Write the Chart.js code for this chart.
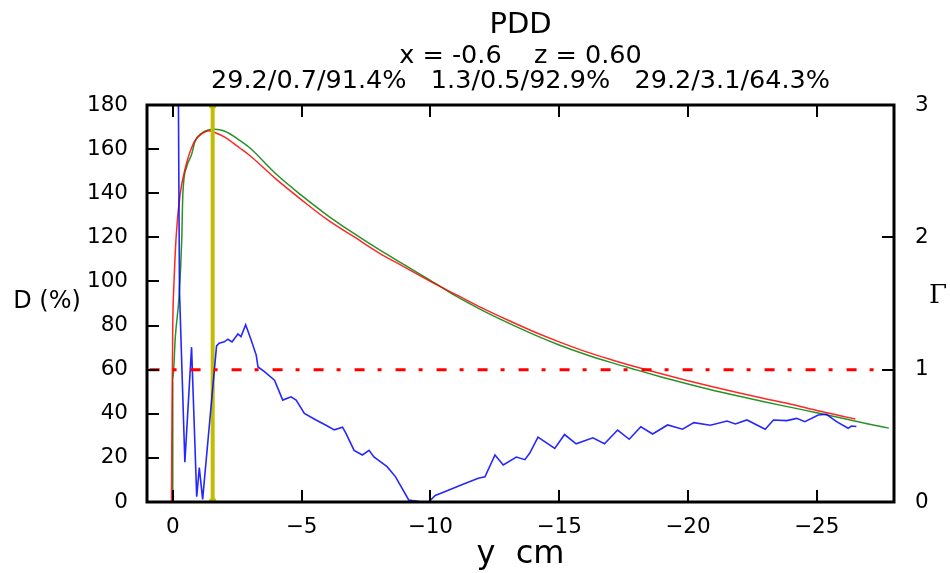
<!DOCTYPE html>
<html>
<head>
<meta charset="utf-8">
<script src="https://cdn.jsdelivr.net/npm/chart.js@4.4.1/dist/chart.umd.min.js"></script>
<style>
  body { margin: 0; background: #fff; }
</style>
</head>
<body>
<canvas id="pdd" width="950" height="573"></canvas>
<script>
// depth (cm) and dose (%)
const depthRed = [0.05, 0.03, 0.0, -0.05, -0.13, -0.28, -0.5, -0.78, -0.98, -1.2, -1.4, -1.7, -2, -2.6, -3, -4, -5, -6, -7, -8, -9, -10, -11, -12, -13, -14, -15, -16, -17, -18, -19, -20, -21, -22, -23, -24, -25, -26, -26.5]
const doseRed = [0, 40, 80, 100, 120, 139, 152, 162, 165.5, 167.5, 168.3, 167.2, 165.5, 160.5, 157, 146.5, 137, 128, 120.5, 113, 106.5, 100, 94, 88, 82.5, 77.3, 72.6, 68.3, 64.6, 61.2, 58, 55, 52.1, 49.4, 46.8, 44.3, 41.5, 38.9, 37.6]

const depthGreen = [0, 0, -0.1, -0.25, -0.35, -0.39, -0.54, -0.73, -0.86, -1.12, -1.63, -2, -2.6, -3, -4, -5, -6, -7, -8, -9, -10, -11, -12, -13, -14, -15, -16, -17, -18, -19, -20, -21, -22, -23, -24, -25, -26, -27, -27.8]
const doseGreen = [0, 55, 75, 94, 119.5, 139, 152, 157.5, 163.4, 167.2, 169, 168.2, 164, 160.5, 148.8, 139, 130, 122, 114.5, 107.5, 100.5, 93.3, 87, 81.3, 76, 71.2, 67, 63.3, 59.9, 56.6, 53.5, 50.6, 47.9, 45.3, 42.9, 40.5, 38, 35.4, 33.5]

// gamma index along depth
const gammaDepth = [0, -0.08, -0.22, -0.26, -0.47, -0.73, -0.93, -1.03, -1.16, -1.7, -1.8, -2.0, -2.14, -2.3, -2.53, -2.65, -2.83, -3.05, -3.24, -3.31, -3.56, -3.95, -4.27, -4.59, -4.79, -5.11, -5.56, -5.95, -6.27, -6.59, -6.72, -7.04, -7.36, -7.62, -7.81, -8.32, -8.65, -9.16, -9.68, -9.93, -10.19, -10.58, -11.22, -11.86, -12.12, -12.51, -12.83, -13.34, -13.67, -13.86, -14.18, -14.83, -15.21, -15.66, -16.31, -16.76, -17.27, -17.72, -18.17, -18.63, -19.21, -19.79, -20.23, -20.87, -21.52, -21.84, -22.29, -23.0, -23.32, -23.84, -24.22, -24.54, -25.06, -25.38, -25.77, -26.22, -26.35, -26.54]
const gammaValue = [2.92, 3.6, 3.02, 1.6, 0.3, 1.17, 0.04, 0.26, 0.02, 1.18, 1.2, 1.21, 1.23, 1.21, 1.27, 1.25, 1.34, 1.22, 1.11, 1.02, 0.985, 0.92, 0.77, 0.795, 0.77, 0.67, 0.62, 0.58, 0.545, 0.565, 0.52, 0.39, 0.355, 0.39, 0.34, 0.267, 0.19, 0.015, 0.0, 0.0, 0.05, 0.08, 0.13, 0.18, 0.19, 0.355, 0.28, 0.34, 0.32, 0.37, 0.49, 0.405, 0.51, 0.44, 0.485, 0.44, 0.544, 0.474, 0.569, 0.514, 0.582, 0.55, 0.6, 0.58, 0.612, 0.59, 0.62, 0.55, 0.62, 0.615, 0.632, 0.607, 0.657, 0.663, 0.607, 0.557, 0.574, 0.57]

const markerDepth = [-1.55, -1.55]
const markerDose = [0, 180]

const passDepth = [0.9, -27.5]
const passGamma = [1, 1]

const xTicks = [0, -5, -10, -15, -20, -25]

const titleText = 'PDD'
const subLines = ['x = -0.6    z = 0.60', '29.2/0.7/91.4%   1.3/0.5/92.9%   29.2/3.1/64.3%']

const pts = (xs, ys) => xs.map((x, i) => ({ x: x, y: ys[i] }))
const FONT = 'DejaVu Sans'

// matplotlib-like frame, inward ticks and the loose labels
const framePlugin = {
  id: 'frame',
  afterDraw(chart) {
    const { ctx, chartArea: a, scales } = chart
    ctx.save()
    ctx.strokeStyle = '#000'
    ctx.lineWidth = 3
    ctx.strokeRect(a.left, a.top, a.right - a.left, a.bottom - a.top)

    ctx.lineWidth = 2
    ctx.beginPath()
    scales.x.ticks.forEach(t => {
      const px = Math.round(scales.x.getPixelForValue(t.value))
      ctx.moveTo(px, a.bottom); ctx.lineTo(px, a.bottom - 12)
      ctx.moveTo(px, a.top); ctx.lineTo(px, a.top + 12)
    })
    scales.y.ticks.forEach(t => {
      const py = Math.round(scales.y.getPixelForValue(t.value))
      ctx.moveTo(a.left, py); ctx.lineTo(a.left + 12, py)
    })
    scales.y2.ticks.forEach(t => {
      const py = Math.round(scales.y2.getPixelForValue(t.value))
      ctx.moveTo(a.right, py); ctx.lineTo(a.right - 12, py)
    })
    ctx.stroke()

    const cx = (a.left + a.right) / 2
    ctx.fillStyle = '#000'
    ctx.textAlign = 'center'
    ctx.textBaseline = 'alphabetic'
    ctx.font = `29px "${FONT}"`
    ctx.fillText(titleText, cx, 33)
    ctx.font = `25.5px "${FONT}"`
    ctx.fillText(subLines[0], cx, 63)
    ctx.fillText(subLines[1], cx, 88)

    ctx.font = `32px "${FONT}"`
    ctx.fillText('y  cm', cx, 563)

    ctx.textBaseline = 'middle'
    ctx.font = `24px "${FONT}"`
    ctx.fillText('D (%)', 47, 302)
    ctx.font = '26px "DejaVu Serif"'
    ctx.fillText('\u0393', 938, 296)
    ctx.restore()
  }
}

new Chart(document.getElementById('pdd').getContext('2d'), {
  type: 'line',
  data: {
    datasets: [
      {
        data: pts(passDepth, passGamma),
        yAxisID: 'y2',
        borderColor: '#ff0000',
        borderWidth: 3,
        borderDash: [10, 13, 4, 14],
        pointRadius: 0,
        order: 0
      },
      {
        data: pts(gammaDepth, gammaValue),
        yAxisID: 'y2',
        borderColor: 'rgba(0, 0, 255, 0.85)',
        borderWidth: 1.6,
        pointRadius: 0,
        tension: 0,
        order: 1
      },
      {
        data: pts(markerDepth, markerDose),
        yAxisID: 'y',
        borderColor: '#bfbf00',
        backgroundColor: '#bfbf00',
        borderWidth: 4,
        pointRadius: 4,
        pointBorderWidth: 0,
        order: 2
      },
      {
        data: pts(depthRed, doseRed),
        yAxisID: 'y',
        borderColor: 'rgba(255, 0, 0, 0.85)',
        borderWidth: 1.5,
        pointRadius: 0,
        cubicInterpolationMode: 'monotone',
        order: 3
      },
      {
        data: pts(depthGreen, doseGreen),
        yAxisID: 'y',
        borderColor: 'rgba(0, 128, 0, 0.85)',
        borderWidth: 1.5,
        pointRadius: 0,
        cubicInterpolationMode: 'monotone',
        order: 4
      }
    ]
  },
  options: {
    responsive: false,
    animation: false,
    devicePixelRatio: 1,
    layout: { padding: { top: 105, left: 0, right: 0, bottom: 0 } },
    plugins: {
      legend: { display: false },
      tooltip: { enabled: false }
    },
    scales: {
      x: {
        type: 'linear',
        reverse: true,
        min: -28,
        max: 1,
        grid: { display: false },
        border: { display: false },
        afterBuildTicks: scale => { scale.ticks = xTicks.map(v => ({ value: v })) },
        afterFit: scale => { scale.height = 71 },
        ticks: {
          color: '#000',
          padding: 5,
          font: { family: FONT, size: 21.5 },
          callback: v => String(v).replace('-', '\u2212')
        }
      },
      y: {
        position: 'left',
        min: 0,
        max: 180,
        grid: { display: false },
        border: { display: false },
        afterFit: scale => { scale.width = 147 },
        ticks: {
          stepSize: 20,
          color: '#000',
          padding: 11,
          font: { family: FONT, size: 21.5 }
        }
      },
      y2: {
        position: 'right',
        min: 0,
        max: 3,
        grid: { display: false },
        border: { display: false },
        afterFit: scale => { scale.width = 56 },
        ticks: {
          stepSize: 1,
          color: '#000',
          padding: 13,
          font: { family: FONT, size: 21.5 }
        }
      }
    }
  },
  plugins: [framePlugin]
})
</script>
</body>
</html>
